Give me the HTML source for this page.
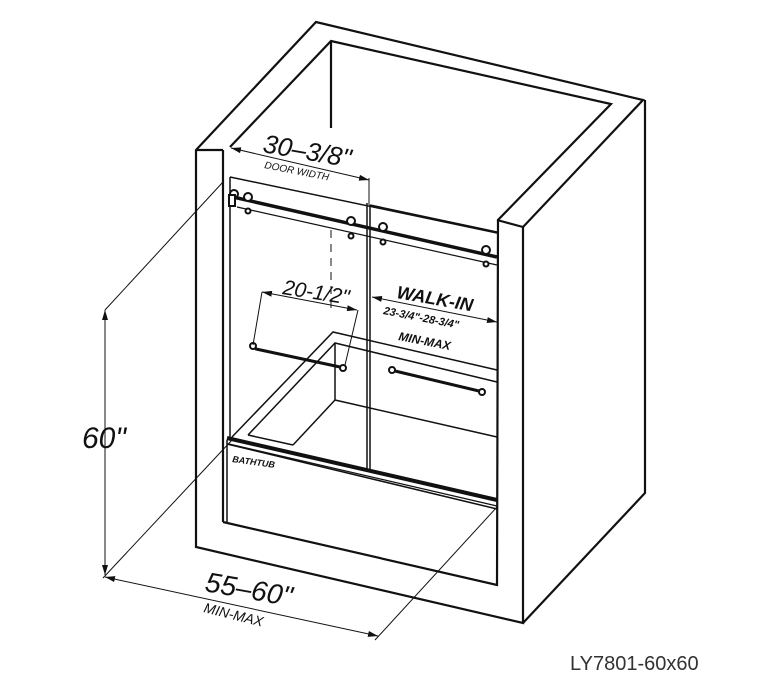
<!DOCTYPE html>
<html><head><meta charset="utf-8"><style>
html,body{margin:0;padding:0;background:#fff;}
svg{display:block;}
text{font-family:"Liberation Sans",sans-serif;fill:#111;}
.it{font-style:italic;}
</style></head><body>
<svg width="768" height="700" viewBox="0 0 768 700" xmlns="http://www.w3.org/2000/svg">
<defs>
<marker id="ar" markerWidth="10" markerHeight="6" refX="10" refY="3" orient="auto" markerUnits="userSpaceOnUse"><path d="M0,0 L10,3 L0,6 z" fill="#111"/></marker>
<marker id="al" markerWidth="10" markerHeight="6" refX="0" refY="3" orient="auto" markerUnits="userSpaceOnUse"><path d="M10,0 L0,3 L10,6 z" fill="#111"/></marker>
</defs>
<g fill="none" stroke="#111" stroke-width="2.2" stroke-linejoin="miter">
<path d="M196,150 L316,22 L643,100 L523,227 L523,623 L196,547 Z"/>
<path d="M523,623 L645,493 L645,100"/>
<path d="M497,220 L523,227"/>
<path d="M223,522 L223,150 M230,147 L331,41 L611,104 L498,220 L497,585 L223,522"/>
<path d="M196,150 L223,150"/>
<path d="M331,41 L331,128"/>
</g>
<g fill="none" stroke="#111" stroke-width="1.5">
<path d="M230,177 L497,233"/>
<path d="M230,177 L230,440"/>
<path d="M367,203 L367,470 M370,205 L370,470"/>
<path d="M370,205 L497,232"/>
<path d="M237,207 L497,265" stroke-width="1.2"/>
<path d="M232,437 L333,332 L497,370"/>
<path d="M248,435 L335,343 L497,382"/>
<path d="M335,343 L335,400 L497,437"/>
<path d="M293,445 L335,400"/>
<path d="M248,435 L293,445"/>
<path d="M227,440 L227,522"/>
<path d="M227,444 L497,509"/>
</g>
<path d="M233,197 L497,257" stroke="#111" stroke-width="3.5"/>
<path d="M227,438 L497,500" stroke="#111" stroke-width="4"/>
<path d="M229,444 L497,506" stroke="#111" stroke-width="1.2"/>
<g fill="#fff" stroke="#111" stroke-width="2">
<circle cx="234" cy="194" r="4"/><circle cx="248" cy="197" r="4"/>
<circle cx="351" cy="221" r="4"/><circle cx="383" cy="227" r="4"/><circle cx="486" cy="250" r="4"/>
<circle cx="248" cy="211" r="2.5"/><circle cx="351" cy="236" r="2.5"/><circle cx="383" cy="242" r="2.5"/><circle cx="486" cy="264" r="2.5"/>
<rect x="229" y="195" width="6" height="11"/>
</g>
<g stroke="#111" stroke-width="3" stroke-linecap="round" fill="none">
<path d="M256,349 L340,367"/><path d="M395,371 L479,391"/>
</g>
<g fill="#fff" stroke="#111" stroke-width="2">
<circle cx="253" cy="346" r="3"/><circle cx="343" cy="368" r="3"/>
<circle cx="392" cy="370" r="3"/><circle cx="482" cy="392" r="3"/>
</g>
<g fill="none" stroke="#111" stroke-width="1">
<path d="M231,148 L369,180" marker-start="url(#al)" marker-end="url(#ar)"/>
<path d="M369,178 L369,205"/>
<path d="M331,230 L331,310" stroke-dasharray="8,6"/>
<path d="M262,292 L357,310" marker-start="url(#al)" marker-end="url(#ar)"/>
<path d="M262,292 L253,345 M358,310 L345,365"/>
<path d="M372,297 L497,322" marker-start="url(#al)" marker-end="url(#ar)"/>
<path d="M105,310 L105,575" marker-start="url(#al)" marker-end="url(#ar)"/>
<path d="M105,310 L223,182 M103,578 L232,440"/>
<path d="M105,577 L378,636" marker-start="url(#al)" marker-end="url(#ar)"/>
<path d="M375,640 L497,507"/>
</g>
<text class="it" x="262" y="152" font-size="26" transform="rotate(10 262 152)">30–3/8"</text>
<text class="it" x="264" y="168" font-size="10" transform="rotate(11 264 168)">DOOR WIDTH</text>
<text class="it" x="282" y="294" font-size="21" transform="rotate(9 282 294)">20-1/2"</text>
<text class="it" x="396" y="298" font-size="18" font-weight="bold" transform="rotate(10 396 298)">WALK-IN</text>
<text class="it" x="383" y="314" font-size="11" font-weight="bold" transform="rotate(11 383 314)">23-3/4"-28-3/4"</text>
<text class="it" x="398" y="340" font-size="12" font-weight="bold" transform="rotate(11 398 340)">MIN-MAX</text>
<text class="it" x="232" y="462" font-size="9" font-weight="bold" transform="rotate(8 232 462)">BATHTUB</text>
<text class="it" x="82" y="448" font-size="30">60"</text>
<text class="it" x="204" y="591" font-size="28" transform="rotate(10 204 591)">55–60"</text>
<text class="it" x="203" y="612" font-size="14" transform="rotate(14 203 612)">MIN-MAX</text>
<text x="570" y="670" font-size="20" style="fill:#333">LY7801-60x60</text>
</svg>
</body></html>
